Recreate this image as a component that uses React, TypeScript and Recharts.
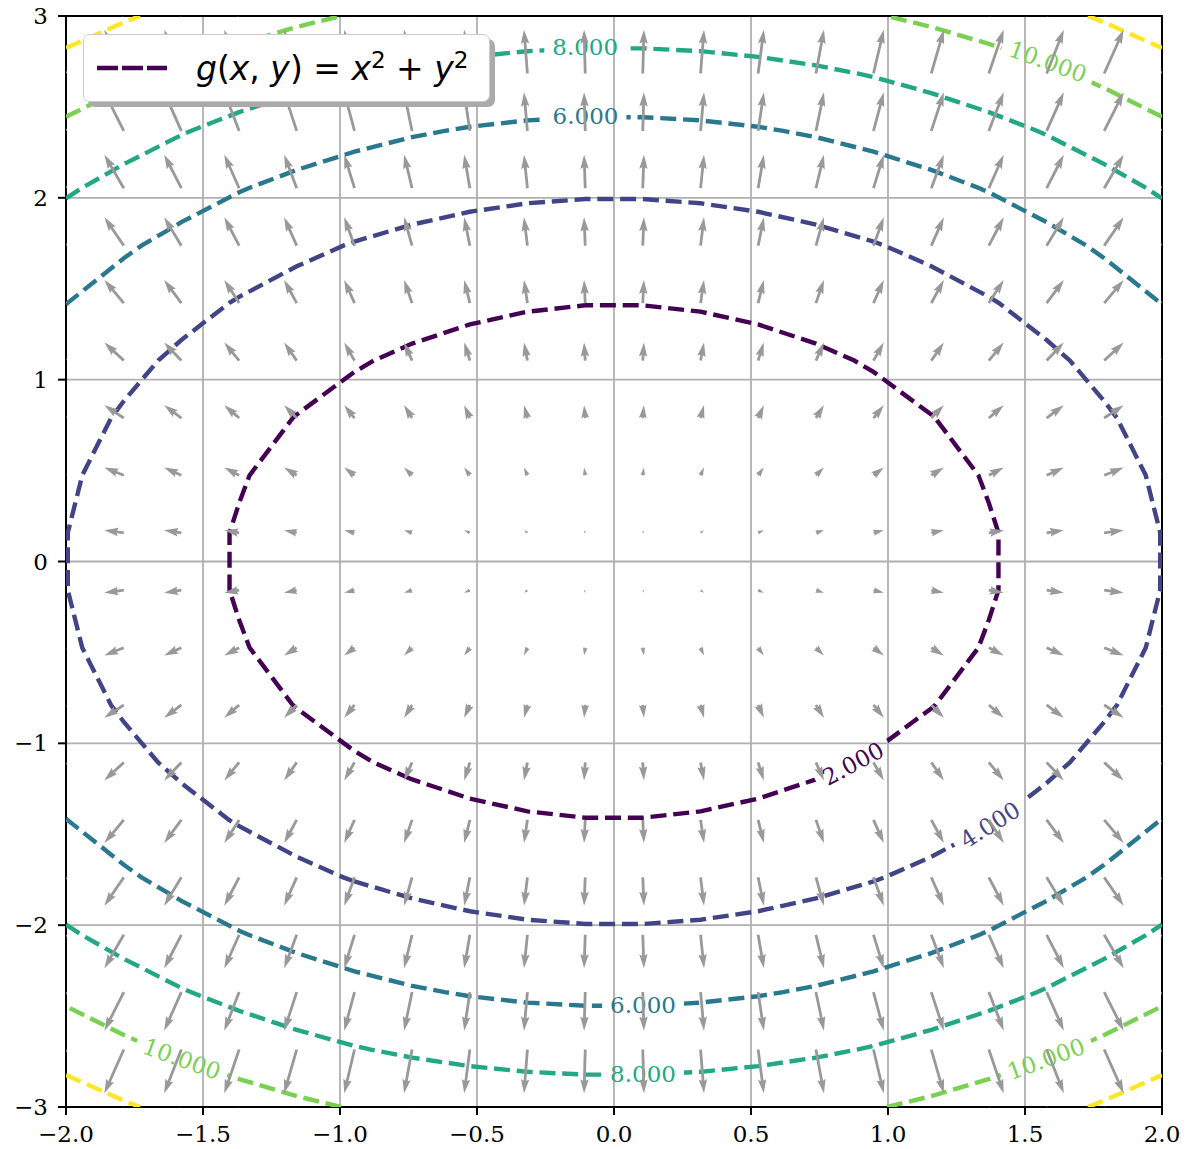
import React from 'react'
import { ScatterChart, Scatter, XAxis, YAxis, CartesianGrid, ReferenceArea, Legend } from 'recharts'

// sample grid (20 x 20) the field and the quiver are evaluated on
const GRID_X = [-2.0, -1.789, -1.579, -1.368, -1.158, -0.947, -0.737, -0.526, -0.316, -0.105,
  0.105, 0.316, 0.526, 0.737, 0.947, 1.158, 1.368, 1.579, 1.789, 2.0]
const GRID_Y = [-3.0, -2.684, -2.368, -2.053, -1.737, -1.421, -1.105, -0.789, -0.474, -0.158,
  0.158, 0.474, 0.789, 1.105, 1.421, 1.737, 2.053, 2.368, 2.684, 3.0]

const LEVELS = [2, 4, 6, 8, 10, 12]
const LEVEL_COLORS = ['#440154', '#414487', '#2a788e', '#22a884', '#7ad151', '#fde725']

const X_TICKS = [-2, -1.5, -1, -0.5, 0, 0.5, 1, 1.5, 2]
const Y_TICKS = [-3, -2, -1, 0, 1, 2, 3]

// inline contour labels (angle in degrees, counter-clockwise)
const LABEL_LEVELS = [2, 4, 6, 6, 8, 8, 10, 10, 10]
const LABEL_X = [0.872, 1.372, -0.104, 0.106, -0.105, 0.106, 1.584, -1.577, 1.577]
const LABEL_Y = [-1.111, -1.447, 2.453, -2.437, 2.833, -2.819, 2.75, -2.734, -2.734]
const LABEL_ANGLES = [28, 32, 0, 0, 0, 0, -20, -20, 20]

const SERIF = '"DejaVu Serif", serif'
const ARROW_COLOR = '#999999'
const ARROW_SCALE = 25.8
const SHAFT = 2.8
const LABEL_FONT = 23

const g = (x: number, y: number) => x * x + y * y

const NX = GRID_X.length
const NY = GRID_Y.length
const FIELD = GRID_Y.map((y) => GRID_X.map((x) => g(x, y)))

type P = { x: number; y: number }

function tracePieces(level: number): P[][] {
  const pos = new Map<string, P>()
  const links = new Map<string, string[]>()
  const cross = (key: string, i0: number, j0: number, i1: number, j1: number) => {
    const z0 = FIELD[j0][i0]
    const z1 = FIELD[j1][i1]
    if ((z0 < level) === (z1 < level)) return null
    if (!pos.has(key)) {
      const t = (level - z0) / (z1 - z0)
      pos.set(key, {
        x: GRID_X[i0] + t * (GRID_X[i1] - GRID_X[i0]),
        y: GRID_Y[j0] + t * (GRID_Y[j1] - GRID_Y[j0]),
      })
    }
    return key
  }
  const link = (a: string, b: string) => {
    links.set(a, [...(links.get(a) ?? []), b])
    links.set(b, [...(links.get(b) ?? []), a])
  }
  for (let j = 0; j < NY - 1; j++) {
    for (let i = 0; i < NX - 1; i++) {
      const hits = [
        cross(`h${i},${j}`, i, j, i + 1, j),
        cross(`v${i + 1},${j}`, i + 1, j, i + 1, j + 1),
        cross(`h${i},${j + 1}`, i, j + 1, i + 1, j + 1),
        cross(`v${i},${j}`, i, j, i, j + 1),
      ].filter(Boolean) as string[]
      if (hits.length === 2) link(hits[0], hits[1])
      else if (hits.length === 4) {
        link(hits[0], hits[3])
        link(hits[1], hits[2])
      }
    }
  }
  const seen = new Set<string>()
  const pieces: P[][] = []
  const walk = (start: string) => {
    const keys = [start]
    seen.add(start)
    let cur = start
    for (;;) {
      const next = (links.get(cur) ?? []).find((k) => !seen.has(k))
      if (!next) break
      seen.add(next)
      keys.push(next)
      cur = next
    }
    if (keys.length > 2 && (links.get(cur) ?? []).includes(start)) keys.push(start)
    pieces.push(keys.map((k) => pos.get(k)!))
  }
  for (const [k, v] of links) if (v.length === 1 && !seen.has(k)) walk(k)
  for (const k of links.keys()) if (!seen.has(k)) walk(k)
  return pieces
}

const labels = LABEL_LEVELS.map((level, i) => ({
  id: `gap-${i}`,
  level,
  x: LABEL_X[i],
  y: LABEL_Y[i],
  angle: LABEL_ANGLES[i],
}))

const pieces = LEVELS.flatMap((level, li) =>
  tracePieces(level).map((pts) => ({ level, color: LEVEL_COLORS[li], pts, mask: '' })),
)

// hook each label to the contour piece it sits on, so that piece gets a gap
for (const lab of labels) {
  let best = -1
  let bestD = Infinity
  pieces.forEach((pc, k) => {
    if (pc.level !== lab.level) return
    for (const p of pc.pts) {
      const d = Math.hypot(p.x - lab.x, p.y - lab.y)
      if (d < bestD) {
        bestD = d
        best = k
      }
    }
  })
  if (best >= 0) pieces[best].mask = lab.id
}

// numpy-style gradient by grid index
const arrows = GRID_Y.flatMap((y, j) =>
  GRID_X.map((x, i) => {
    const row = FIELD[j]
    const u = i === 0 ? row[1] - row[0] : i === NX - 1 ? row[NX - 1] - row[NX - 2] : (row[i + 1] - row[i - 1]) / 2
    const v =
      j === 0
        ? FIELD[1][i] - FIELD[0][i]
        : j === NY - 1
          ? FIELD[NY - 1][i] - FIELD[NY - 2][i]
          : (FIELD[j + 1][i] - FIELD[j - 1][i]) / 2
    return { x, y, u, v }
  }),
)

function Arrow(props: any) {
  const { cx, cy, payload } = props
  if (cx == null || cy == null) return <g />
  const dx = payload.u * ARROW_SCALE
  const dy = -payload.v * ARROW_SCALE
  const len = Math.hypot(dx, dy)
  if (len < SHAFT) return <circle cx={cx} cy={cy} r={SHAFT / 2} fill={ARROW_COLOR} />
  const hl = 5 * SHAFT
  const hal = 4.5 * SHAFT
  const hw = 1.5 * SHAFT
  const sw = 0.5 * SHAFT
  let pts: number[][]
  if (len < hl) {
    const k = len / hl
    pts = [[0, -sw], [hl - hal, -sw], [0, -hw], [hl, 0], [0, hw], [hl - hal, sw], [0, sw]].map(([a, b]) => [a * k, b * k])
  } else {
    pts = [[0, -sw], [len - hal, -sw], [len - hl, -hw], [len, 0], [len - hl, hw], [len - hal, sw], [0, sw]]
  }
  const c = dx / len
  const s = dy / len
  const d = pts.map(([a, b]) => `${(cx + a * c - b * s).toFixed(2)},${(cy + a * s + b * c).toFixed(2)}`).join(' ')
  return <polygon points={d} fill={ARROW_COLOR} />
}

function ContourLabel(props: any) {
  const { cx, cy, payload } = props
  if (cx == null || cy == null) return <g />
  const color = LEVEL_COLORS[LEVELS.indexOf(payload.level)]
  const text = payload.level.toFixed(3)
  const digits = text.length - 1
  const w = (digits * 0.636 + 0.318) * LABEL_FONT + 16
  const h = 30
  const rot = `rotate(${-payload.angle} ${cx} ${cy})`
  return (
    <g>
      <mask id={payload.id} maskUnits="userSpaceOnUse" x={-100} y={-100} width={2000} height={2000}>
        <rect x={-100} y={-100} width={2000} height={2000} fill="white" />
        <rect x={cx - w / 2} y={cy - h / 2} width={w} height={h} fill="black" transform={rot} />
      </mask>
      <text x={cx} y={cy} dy="0.36em" textAnchor="middle" transform={rot}
        fontFamily={SERIF} fontSize={LABEL_FONT} fill={color}>
        {text}
      </text>
    </g>
  )
}

function LegendBox() {
  const it = { fontStyle: 'italic' as const }
  const sup = { fontSize: '0.7em', position: 'relative' as const, top: '-0.5em' }
  return (
    <div style={{
      width: 407, height: 68, boxSizing: 'border-box', background: '#fff',
      border: '1.5px solid #cccccc', borderRadius: 7, boxShadow: '5px 5px 0 #aaaaaa',
      display: 'flex', alignItems: 'center',
    }}>
      <svg width={70} height={10} style={{ marginLeft: 13 }}>
        <line x1={0} y1={5} x2={70} y2={5} stroke="#440154" strokeWidth={4.7} strokeDasharray="21 4" />
      </svg>
      <span style={{ marginLeft: 29, fontFamily: '"DejaVu Sans", sans-serif', fontSize: 33, whiteSpace: 'nowrap', lineHeight: 1 }}>
        <span style={it}>g</span>(<span style={it}>x</span>, <span style={it}>y</span>) = <span style={it}>x</span>
        <span style={sup}>2</span> + <span style={it}>y</span><span style={sup}>2</span>
      </span>
    </div>
  )
}

const tickStyle = { fontFamily: SERIF, fontSize: 23, fill: '#000' }
const fmt = (v: number, digits: number) => v.toFixed(digits).replace('-', '\u2212')

export default function App() {
  return (
    <div style={{ position: 'relative', top: -8 }}>
      <ScatterChart width={1180} height={1149} margin={{ top: 16, right: 26, bottom: 0, left: 0 }}>
        <CartesianGrid stroke="#b0b0b0" strokeWidth={1.8} />
        <XAxis type="number" dataKey="x" domain={[-2, 2]} ticks={X_TICKS} interval={0} allowDataOverflow
          height={42} tick={tickStyle} tickSize={8} tickMargin={11}
          tickLine={{ stroke: '#000', strokeWidth: 2 }} axisLine={{ stroke: '#000', strokeWidth: 2 }}
          tickFormatter={(v: number) => fmt(v, 1)} />
        <YAxis type="number" dataKey="y" domain={[-3, 3]} ticks={Y_TICKS} interval={0} allowDataOverflow
          width={58} tick={tickStyle} tickSize={8} tickMargin={10}
          tickLine={{ stroke: '#000', strokeWidth: 2 }} axisLine={{ stroke: '#000', strokeWidth: 2 }}
          tickFormatter={(v: number) => fmt(v, 0)} />
        {pieces.map((pc, k) => (
          <Scatter key={`c${k}`} data={pc.pts} fill={pc.color} legendType="none" isAnimationActive={false}
            shape={() => <g />}
            line={(lp: any) => (
              <path
                d={lp.points.map((p: any, n: number) => `${n ? 'L' : 'M'}${p.x},${p.y}`).join('')}
                fill="none" stroke={pc.color} strokeWidth={4.4} strokeDasharray="16 6.8"
                mask={pc.mask ? `url(#${pc.mask})` : undefined}
              />
            )}
          />
        ))}
        <Scatter data={labels} shape={ContourLabel} legendType="none" isAnimationActive={false} />
        <Scatter data={arrows} shape={Arrow} legendType="none" isAnimationActive={false} />
        <ReferenceArea x1={-2} x2={2} y1={-3} y2={3} fill="none" stroke="#000" strokeWidth={2} />
        <Legend layout="vertical" align="center" verticalAlign="middle" content={<LegendBox />}
          wrapperStyle={{ left: 75, top: 34, width: 'auto', height: 'auto' }} />
      </ScatterChart>
    </div>
  )
}
